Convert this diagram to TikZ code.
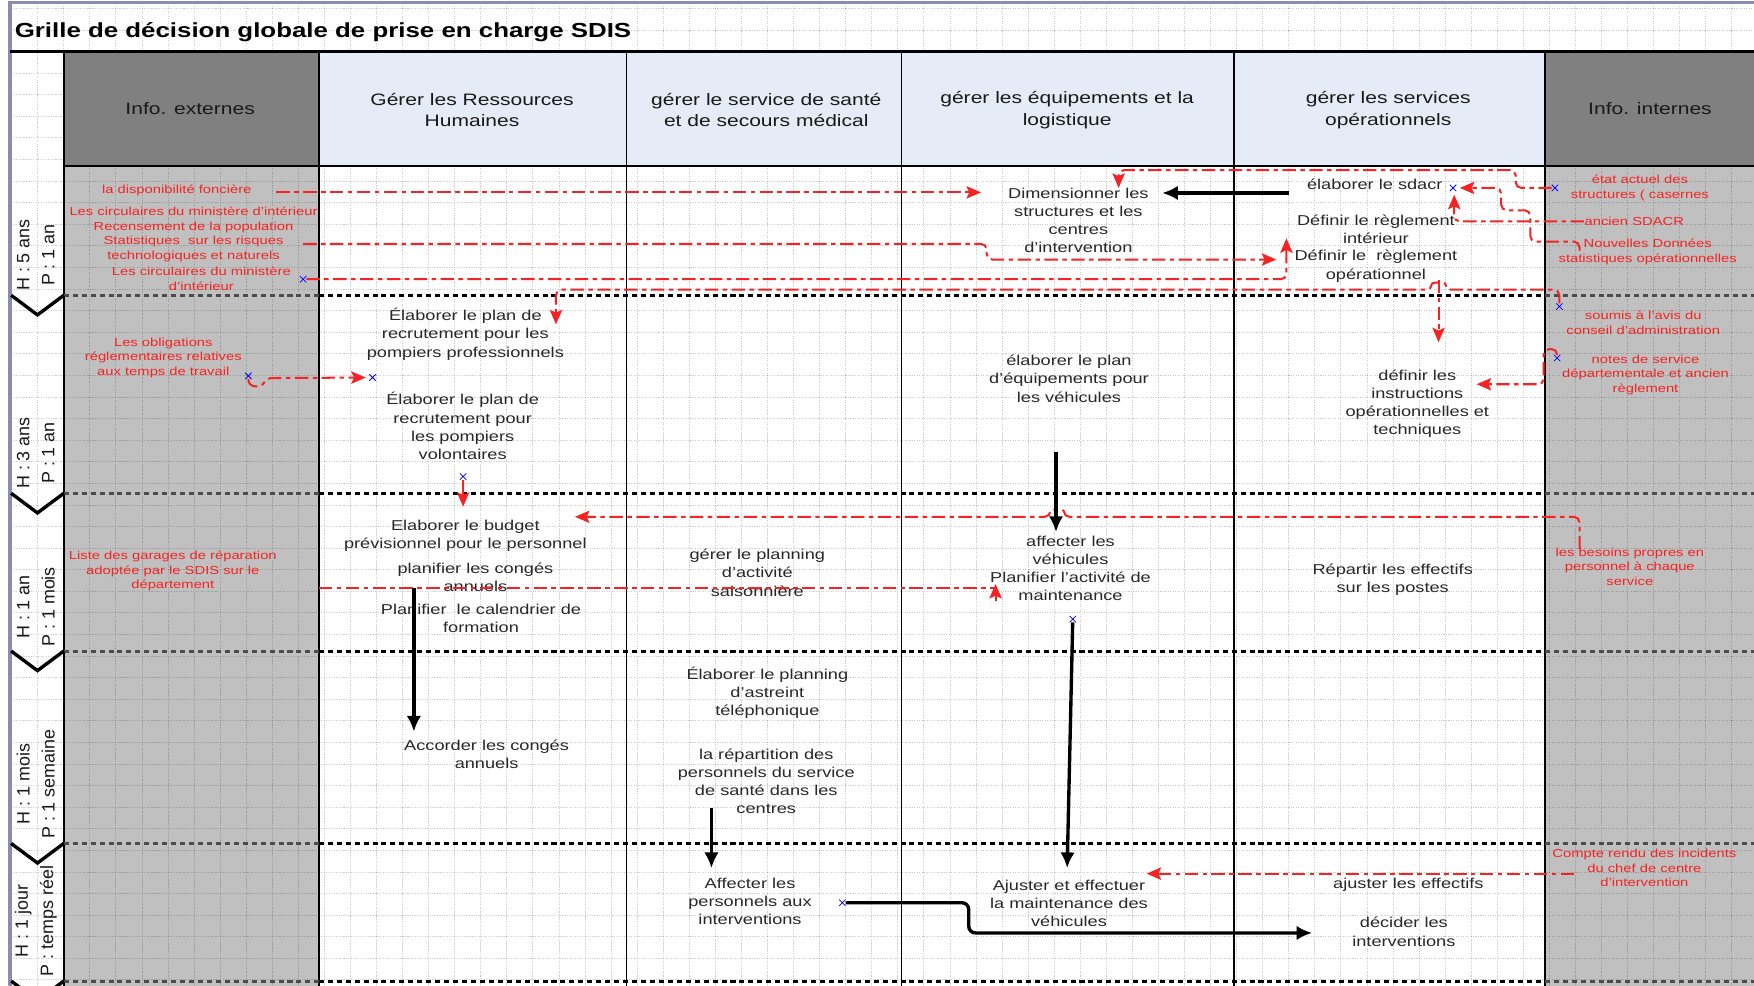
\documentclass[tikz,border=0pt]{standalone}
\usepackage{fontspec}
\setmainfont{Liberation Sans}[FakeStretch=1.27]
\newfontfamily\droit{Liberation Sans}
\usepackage{tikz}
\usetikzlibrary{arrows.meta,shapes.misc}

\definecolor{texte}{RGB}{40,40,40}
\definecolor{rouge}{RGB}{245,35,35}
\definecolor{bleupale}{RGB}{230,236,247}
\definecolor{grisfonce}{RGB}{128,128,128}
\definecolor{grisclair}{RGB}{192,192,192}
\definecolor{cadre}{RGB}{140,140,174}

\begin{document}
\begin{tikzpicture}[x=1pt, y=-1pt, >={Stealth[length=13pt,width=11pt,inset=2.5pt]},
	tache/.style={align=center, text=texte, inner sep=0pt, font=\fontsize{12.8}{16.3}\selectfont},
	info/.style={align=center, text=rouge, inner sep=0pt, font=\fontsize{10.4}{13}\selectfont},
	entete/.style={align=center, text=black!90, inner sep=0pt, font=\fontsize{14.8}{19}\selectfont},
	duree/.style={rotate=90, inner sep=0pt, text=black!90, font=\droit\fontsize{16}{16}\selectfont},
	lien/.style={rouge, line width=1.8pt, dash pattern=on 12pt off 4pt on 4pt off 4pt, rounded corners=5pt, ->},
	flux/.style={black, line width=3pt, rounded corners=6pt, -{Latex[length=14pt,width=13pt]}},
	croix/.style={cross out, draw=blue, line width=0.7pt, minimum size=5pt, inner sep=0pt},
	coupure/.style={line width=2.6pt, dash pattern=on 4.5pt off 3.5pt}]
		\useasboundingbox (0,0) rectangle (1568,881);
		\fill[white] (0,0) rectangle (1568,881);
		%colonnes grises
		\fill[grisclair] (57,148) rectangle (285,881);
		\fill[grisclair] (1381,148) rectangle (1568,881);
		%grille
		\foreach \gx in {0,...,66} \draw[black, draw opacity=0.2, line width=0.6pt, dash pattern=on 1pt off 1.2pt] ({10.3+23.3*\gx},3) -- ({10.3+23.3*\gx},881);
		\foreach \gy in {0,...,45} \draw[black, draw opacity=0.2, line width=0.6pt, dash pattern=on 1pt off 1.2pt] (10,{7.4+19.3*\gy}) -- (1568,{7.4+19.3*\gy});
		%entete
		\fill[grisfonce] (57,46) rectangle (285,148);
		\fill[bleupale] (285,46) rectangle (1381,148);
		\fill[grisfonce] (1381,46) rectangle (1568,148);
		\draw[cadre, line width=3pt] (9,881) -- (9,2) -- (1568,2);
		\draw[line width=2pt] (9,46) -- (1568,46);
		\draw[line width=1.8pt] (57,148) -- (1568,148);
		\foreach \cx/\lw in {57/2, 285/2, 560/1.4, 806/1.4, 1103/1.2, 1381/2} \draw[line width=\lw pt] (\cx,46) -- (\cx,881);
		\node[anchor=base west, inner sep=0pt, font=\bfseries\fontsize{18.2}{20}\selectfont] (titre) at (13,33.4) {Grille de décision globale de prise en charge SDIS};
		\node[entete] (hext) at (170,97.5) {Info. externes};
		\node[entete] (hrh) at (422,98.5) {Gérer les Ressources\\Humaines};
		\node[entete] (hsante) at (685,98.5) {gérer le service de santé\\et de secours médical};
		\node[entete] (hequip) at (954,98.5) {gérer les équipements et la\\logistique};
		\node[entete] (hop) at (1241,98.5) {gérer les services\\opérationnels};
		\node[entete] (hint) at (1475,97.5) {Info. internes};
		%horizons
		\foreach \sy in {264,441,582,754,877} {
			\draw[coupure, black!70] (57,\sy) -- (285,\sy);
			\draw[coupure] (285,\sy) -- (1381,\sy);
			\draw[coupure, black!70] (1381,\sy) -- (1568,\sy);
			\draw[line width=3pt, line join=miter] (10,\sy) -- (33.5,{\sy+17.5}) -- (57,\sy);
		}
		\foreach \hy/\htxt/\ptxt [count=\i] in {228/H : 5 ans/P : 1 an, 405/H : 3 ans/P : 1 an, 542.5/H : 1 an/P : 1 mois, 701/H : 1 mois/P : 1 semaine, 823.5/H : 1 jour/P : temps réel} {
			\node[duree] (h\i) at (20.8,\hy) {\htxt};
			\node[duree] (p\i) at (43.2,\hy) {\ptxt};
		}
		%taches
		\node[tache] (recpro) at (416,298.7) {Élaborer le plan de\\recrutement pour les\\pompiers professionnels};
		\node[tache] (recvol) at (413.6,381) {Élaborer le plan de\\recrutement pour\\les pompiers\\volontaires};
		\node[tache] (budget) at (416,479) {Elaborer le budget\\prévisionnel pour le personnel};
		\node[tache] (conges) at (425,516) {planifier les congés\\annuels};
		\node[tache] (calend) at (430,552.5) {Planifier\ \ le calendrier de\\formation};
		\node[tache] (accord) at (435,674) {Accorder les congés\\annuels};
		\node[tache] (saison) at (677,512) {gérer le planning\\d'activité\\saisonnière};
		\node[tache] (astreint) at (686,619.5) {Élaborer le planning\\d'astreint\\téléphonique};
		\node[tache] (repart) at (685,698.5) {la répartition des\\personnels du service\\de santé dans les\\centres};
		\node[tache] (affpers) at (670.5,806) {Affecter les\\personnels aux\\interventions};
		\node[tache] (dim) at (964,197) {Dimensionner les\\structures et les\\centres\\d'intervention};
		\node[tache] (planeq) at (955.6,338.6) {élaborer le plan\\d'équipements pour\\les véhicules};
		\node[tache] (affveh) at (957,492) {affecter les\\véhicules};
		\node[tache] (maint) at (957,524) {Planifier l'activité de\\maintenance};
		\node[tache] (ajmaint) at (955.6,807.6) {Ajuster et effectuer\\la maintenance des\\véhicules};
		\node[tache] (sdacr) at (1229,165) {élaborer le sdacr};
		\node[tache] (regint) at (1230,205) {Définir le règlement\\intérieur};
		\node[tache] (regop) at (1230,238) {Définir le\ \ règlement\\opérationnel};
		\node[tache] (instr) at (1267,361) {définir les\\instructions\\opérationnelles et\\techniques};
		\node[tache] (repeff) at (1245,518) {Répartir les effectifs\\sur les postes};
		\node[tache] (ajeff) at (1259,791) {ajuster les effectifs};
		\node[tache] (decider) at (1255,833) {décider les\\interventions};
		%infos
		\node[info] (foncier) at (158,170.6) {la disponibilité foncière};
		\node[info] (circ) at (173,209.5) {Les circulaires du ministère d'intérieur\\Recensement de la population\\Statistiques\ \ sur les risques\\technologiques et naturels};
		\node[info] (circ2) at (180,249) {Les circulaires du ministère\\d'intérieur};
		\node[info] (oblig) at (146,320) {Les obligations\\réglementaires relatives\\aux temps de travail};
		\node[info] (garages) at (154.5,510.6) {Liste des garages de réparation\\adoptée par le SDIS sur le\\département};
		\node[info] (etat) at (1466,168) {état actuel des\\structures ( casernes};
		\node[info] (ancien) at (1461,198) {ancien SDACR};
		\node[info] (nouv) at (1473,225) {Nouvelles Données\\statistiques opérationnelles};
		\node[info] (soumis) at (1469,288.5) {soumis à l'avis du\\conseil d'administration};
		\node[info] (notes) at (1471,335) {notes de service\\départementale et ancien\\règlement};
		\node[info] (besoins) at (1457,506.5) {les besoins propres en\\personnel à chaque\\service};
		\node[info] (compte) at (1470,776) {Compte rendu des incidents\\du chef de centre\\d'intervention};
		%points de connexion
		\node[croix] (xcirc) at (271,249.6) {};
		\node[croix] (xoblig) at (222,336) {};
		\node[croix] (xrec) at (333,337.5) {};
		\node[croix] (xvol) at (414,426) {};
		\node[croix] (xsdacr) at (1299,168) {};
		\node[croix] (xetat) at (1390,168) {};
		\node[croix] (xsoumis) at (1394,274) {};
		\node[croix] (xnotes) at (1392,320) {};
		\node[croix] (xaffpers) at (753,807) {};
		\node[croix] (xmaint) at (959,553.5) {};
		\coordinate (pfoncier) at (247,172);
		\coordinate (pstat) at (271,218);
		\coordinate (pgarages) at (285,526);
		\coordinate (pancien) at (1416,198);
		\coordinate (pnouv) at (1412,224);
		\coordinate (pbesoins) at (1412,491);
		\coordinate (pcompte) at (1407,781);
		\coordinate (pregop) at (1286,250);
		\coordinate (psdacr) at (1152,172.5);
		\coordinate (pplaneq) at (944,404);
		\coordinate (pconges) at (370,526);
		\coordinate (prepart) at (636,722);
		\coordinate (tdimw) at (877,172);
		\coordinate (tdimn) at (1000,168);
		\coordinate (tdime) at (1039,172.5);
		\coordinate (tregop) at (1141,232);
		\coordinate (tregint) at (1150,213);
		\coordinate (trecpro) at (497,290);
		\coordinate (trecvol) at (327,337.5);
		\coordinate (tinstrn) at (1286,306);
		\coordinate (tinstre) at (1320,343.5);
		\coordinate (tbudgetn) at (414,453);
		\coordinate (tbudgete) at (514,462);
		\coordinate (tmaint) at (890,522);
		\coordinate (tajmainte) at (1025,781);
		\coordinate (tajmaintn) at (954,776);
		\coordinate (tsdacrs) at (1300,174);
		\coordinate (tsdacre) at (1305,168);
		\coordinate (taffveh) at (944,475.5);
		\coordinate (taccord) at (370,654);
		\coordinate (taffpers) at (636,776);
		\coordinate (tdecider) at (1173,834);
		%liens rouges
		\draw[lien] (pfoncier) -- (tdimw);
		\draw[lien] (pstat) -- (882,218) -- (882,232) -- (tregop);
		\draw[lien] (xcirc) -| (tregint);
		\draw[lien] (xsoumis) -- (1394,259) -- (1292,259) .. controls (1292,252) and (1280,252) .. (1280,259) -- (497,259) -- (trecpro);
		\draw[lien] (pregop) -- (tinstrn);
		\draw[lien] (xnotes) |- (1380,312) |- (tinstre);
		\draw[lien] (xoblig) .. controls (222,348) and (234,346) .. (238,338) -- (trecvol);
		\draw[rouge, line width=1.8pt, ->] (xvol) -- (tbudgetn);
		\draw[lien] (pbesoins) -- (1412,462) -- (951,462) .. controls (951,455) and (939,455) .. (939,462) -- (tbudgete);
		\draw[lien, rounded corners=0pt] (pgarages) -- (890,526) -- (890,537) -- (tmaint);
		\draw[lien] (pcompte) -- (tajmainte);
		\draw[lien] (xetat) -| (1355,152) -| (tdimn);
		\draw[lien] (pancien) -| (tsdacrs);
		\draw[lien] (pnouv) |- (1368,216) |- (1342,188) |- (tsdacre);
		%flux
		\draw[flux] (psdacr) -- (tdime);
		\draw[flux] (pplaneq) -- (taffveh);
		\draw[flux] (xmaint) -- (tajmaintn);
		\draw[flux] (pconges) -- (taccord);
		\draw[flux] (prepart) -- (taffpers);
		\draw[flux] (xaffpers) -| (866,834) -- (tdecider);
	\end{tikzpicture}
\end{document}
